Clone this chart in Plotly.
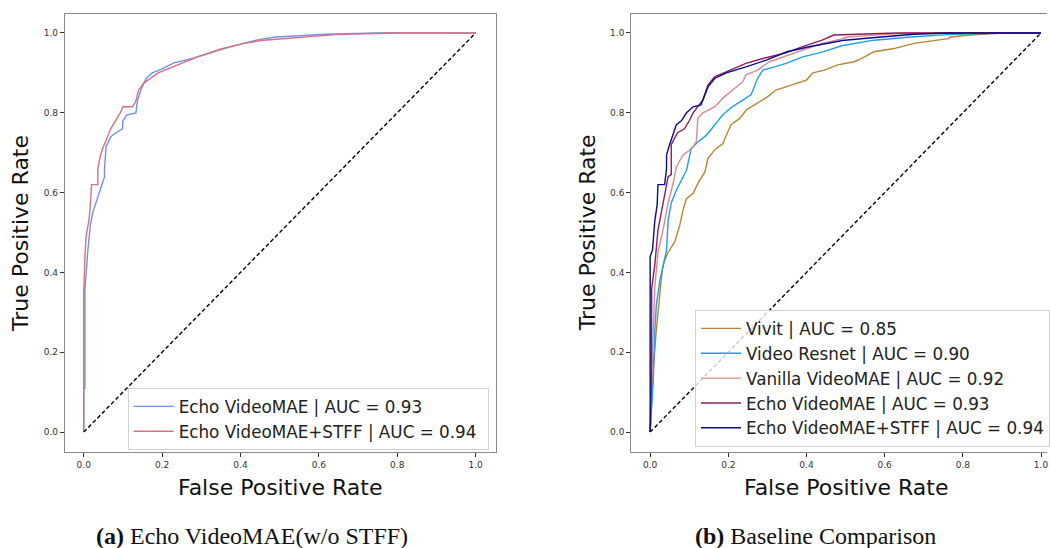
import plotly.graph_objects as go

# ---------------- data ----------------
# Panel (a): Echo VideoMAE (w/o STFF)
a_echo_fpr = [0, 0.0, 0.003, 0.003, 0.01, 0.017, 0.023, 0.036, 0.04, 0.053, 0.053, 0.057, 0.069, 0.082,
              0.099, 0.10, 0.11, 0.133, 0.137, 0.146, 0.159, 0.175, 0.20, 0.23, 0.277, 0.32, 0.375,
              0.44, 0.49, 0.62, 0.745, 1.0]
a_echo_tpr = [0, 0.11, 0.11, 0.355, 0.45, 0.52, 0.55, 0.59, 0.60, 0.64, 0.66, 0.715, 0.74, 0.75,
              0.76, 0.78, 0.795, 0.80, 0.83, 0.857, 0.886, 0.90, 0.91, 0.925, 0.936, 0.95, 0.966,
              0.982, 0.99, 0.997, 1.0, 1.0]
a_stff_fpr = [0, 0, 0.003, 0.006, 0.013, 0.016, 0.020, 0.036, 0.036, 0.042, 0.048, 0.069, 0.093,
              0.10, 0.125, 0.133, 0.14, 0.154, 0.19, 0.24, 0.29, 0.35, 0.41, 0.46, 0.53, 0.643, 0.79, 1.0]
a_stff_tpr = [0, 0.35, 0.44, 0.49, 0.53, 0.556, 0.62, 0.62, 0.66, 0.69, 0.71, 0.76, 0.80,
              0.815, 0.815, 0.83, 0.857, 0.875, 0.90, 0.92, 0.94, 0.96, 0.974, 0.982, 0.987, 0.996, 1.0, 1.0]

a_names = ["Echo VideoMAE | AUC = 0.93", "Echo VideoMAE+STFF | AUC = 0.94"]
a_colors = ["#6f8ff2", "#d8707e"]

# Panel (b): baseline comparison
b_vivit_fpr = [0, 0.005, 0.008, 0.015, 0.02, 0.025, 0.031, 0.037, 0.046, 0.063, 0.067, 0.075, 0.084,
               0.093, 0.11, 0.122, 0.14, 0.148, 0.165, 0.186, 0.199, 0.207, 0.229, 0.246, 0.267, 0.30,
               0.322, 0.365, 0.40, 0.416, 0.446, 0.48, 0.522, 0.54, 0.573, 0.624, 0.675, 0.735, 0.764,
               0.768, 0.82, 0.905, 1.0]
b_vivit_tpr = [0, 0.10, 0.155, 0.247, 0.306, 0.348, 0.406, 0.43, 0.45, 0.477, 0.49, 0.515, 0.556,
               0.585, 0.598, 0.623, 0.652, 0.686, 0.707, 0.723, 0.753, 0.77, 0.786, 0.807, 0.82, 0.84,
               0.857, 0.87, 0.882, 0.90, 0.907, 0.92, 0.928, 0.936, 0.953, 0.961, 0.974, 0.982, 0.986,
               0.99, 0.995, 1.0, 1.0]
b_resnet_fpr = [0, 0.005, 0.008, 0.012, 0.016, 0.025, 0.033, 0.042, 0.046, 0.054, 0.067, 0.084, 0.093,
                0.105, 0.122, 0.144, 0.165, 0.186, 0.21, 0.237, 0.258, 0.275, 0.288, 0.318, 0.348, 0.39,
                0.44, 0.49, 0.573, 0.667, 0.76, 0.89, 1.0]
b_resnet_tpr = [0, 0.10, 0.13, 0.256, 0.32, 0.38, 0.42, 0.456, 0.53, 0.574, 0.606, 0.64, 0.656,
                0.71, 0.727, 0.744, 0.77, 0.795, 0.815, 0.832, 0.845, 0.886, 0.907, 0.915, 0.924, 0.94,
                0.952, 0.968, 0.982, 0.99, 0.996, 1.0, 1.0]
b_vanilla_fpr = [0, 0.003, 0.006, 0.012, 0.02, 0.033, 0.046, 0.059, 0.067, 0.084, 0.105, 0.118, 0.122,
                 0.135, 0.165, 0.19, 0.216, 0.237, 0.245, 0.275, 0.305, 0.34, 0.39, 0.44, 0.49, 0.505,
                 0.59, 0.675, 1.0]
b_vanilla_tpr = [0, 0.11, 0.20, 0.364, 0.45, 0.506, 0.574, 0.624, 0.665, 0.694, 0.71, 0.727, 0.786,
                 0.80, 0.815, 0.84, 0.861, 0.878, 0.895, 0.907, 0.928, 0.94, 0.957, 0.974, 0.985, 0.99,
                 0.996, 1.0, 1.0]
b_echo_fpr = [0, 0.003, 0.004, 0.012, 0.02, 0.033, 0.042, 0.046, 0.054, 0.054, 0.07, 0.088, 0.10, 0.11,
              0.135, 0.148, 0.165, 0.203, 0.245, 0.288, 0.347, 0.39, 0.44, 0.47, 0.55, 0.63, 1.0]
b_echo_tpr = [0, 0.10, 0.36, 0.42, 0.506, 0.574, 0.615, 0.64, 0.645, 0.72, 0.75, 0.76, 0.78, 0.80,
              0.832, 0.87, 0.89, 0.907, 0.924, 0.936, 0.95, 0.966, 0.982, 0.995, 0.997, 1.0, 1.0]
b_stff_fpr = [0, 0, 0.006, 0.012, 0.018, 0.02, 0.037, 0.042, 0.042, 0.048, 0.067, 0.08, 0.093, 0.11,
              0.13, 0.14, 0.148, 0.165, 0.195, 0.245, 0.297, 0.35, 0.41, 0.475, 0.497, 0.59, 0.675, 0.76, 1.0]
b_stff_tpr = [0, 0.44, 0.456, 0.53, 0.57, 0.62, 0.62, 0.66, 0.694, 0.715, 0.77, 0.78, 0.80, 0.815,
              0.82, 0.845, 0.865, 0.886, 0.90, 0.915, 0.932, 0.953, 0.966, 0.978, 0.982, 0.99, 0.997, 1.0, 1.0]

b_names = ["Vivit | AUC = 0.85", "Video Resnet | AUC = 0.90", "Vanilla VideoMAE | AUC = 0.92",
           "Echo VideoMAE | AUC = 0.93", "Echo VideoMAE+STFF | AUC = 0.94"]
b_colors = ["#b8862e", "#1c9fe8", "#d98a90", "#8c1c5c", "#0a0a8a"]

chance = [0, 1]
tick_vals = [0.0, 0.2, 0.4, 0.6, 0.8, 1.0]
tick_text = ["0.0", "0.2", "0.4", "0.6", "0.8", "1.0"]
x_title = "False Positive Rate"
y_title = "True Positive Rate"
captions = ["<b>(a)</b> Echo VideoMAE(w/o STFF)", "<b>(b)</b> Baseline Comparison"]

# ---------------- figure ----------------
W, H = 1050, 548
ML, MR, MT, MB = 0, 0, 14, 96
FONT = "DejaVu Sans"

fig = go.Figure()

a_curves = [(a_echo_fpr, a_echo_tpr), (a_stff_fpr, a_stff_tpr)]
for (fx, ty), nm, col in zip(a_curves, a_names, a_colors):
    fig.add_trace(go.Scatter(x=fx, y=ty, mode="lines", name=nm + "\u00a0", legend="legend",
                             line=dict(color=col, width=1.4), xaxis="x", yaxis="y"))
fig.add_trace(go.Scatter(x=chance, y=chance, mode="lines", showlegend=False,
                         line=dict(color="black", width=1.4, dash="4px,2.5px"), xaxis="x", yaxis="y"))

b_curves = [(b_vivit_fpr, b_vivit_tpr), (b_resnet_fpr, b_resnet_tpr), (b_vanilla_fpr, b_vanilla_tpr),
            (b_echo_fpr, b_echo_tpr), (b_stff_fpr, b_stff_tpr)]
for (fx, ty), nm, col in zip(b_curves, b_names, b_colors):
    fig.add_trace(go.Scatter(x=fx, y=ty, mode="lines", name=nm, legend="legend2",
                             line=dict(color=col, width=1.4), xaxis="x2", yaxis="y2"))
fig.add_trace(go.Scatter(x=chance, y=chance, mode="lines", showlegend=False,
                         line=dict(color="black", width=1.4, dash="4px,2.5px"), xaxis="x2", yaxis="y2"))

def px_x(p):
    return (p - ML) / (W - ML - MR)

def px_y(p):
    return (H - MB - p) / (H - MT - MB)

axis_common = dict(showline=True, linecolor="#8a8a8a", linewidth=1, ticks="outside", ticklen=4,
                   tickcolor="#333333", tickwidth=1, tickvals=tick_vals, ticktext=tick_text,
                   tickfont=dict(family=FONT, size=9, color="#333333"), showgrid=False,
                   zeroline=False, automargin=False)

legend_common = dict(xanchor="left", yanchor="top", bgcolor="rgba(255,255,255,0.8)",
                     bordercolor="#d0d0d0", borderwidth=1, itemwidth=40,
                     font=dict(family=FONT, size=16.8, color="#222222"), tracegroupgap=0)

fig.update_layout(
    width=W, height=H, template="none",
    margin=dict(l=ML, r=MR, t=MT, b=MB),
    paper_bgcolor="white", plot_bgcolor="white",
    font=dict(family=FONT, color="#222222"),
    xaxis=dict(domain=[px_x(65), px_x(497)], range=[-0.0483, 1.0509], anchor="y", mirror=True,
               **axis_common),
    yaxis=dict(domain=[0, 1], range=[-0.050, 1.0476], anchor="x", mirror=True, **axis_common),
    xaxis2=dict(domain=[px_x(633), 1.0], range=[-0.0485, 1.0153], anchor="y2", mirror=True,
                **axis_common),
    yaxis2=dict(domain=[0, 1], range=[-0.050, 1.0476], anchor="x2", mirror=False, **axis_common),
    legend=dict(x=px_x(128), y=px_y(388), **legend_common),
    legend2=dict(x=px_x(697), y=px_y(310), **legend_common),
)

ann = []
for cx in (281, 848):
    ann.append(dict(text=x_title, x=px_x(cx), y=px_y(487), xref="paper", yref="paper",
                    xanchor="center", yanchor="middle", showarrow=False,
                    font=dict(family=FONT, size=22, color="#111111")))
for cx in (20, 589):
    ann.append(dict(text=y_title, x=px_x(cx), y=px_y(233), xref="paper", yref="paper",
                    xanchor="center", yanchor="middle", showarrow=False, textangle=-90,
                    font=dict(family=FONT, size=22, color="#111111")))
for cx, cap in zip((253, 818), captions):
    ann.append(dict(text=cap, x=px_x(cx), y=px_y(536), xref="paper", yref="paper",
                    xanchor="center", yanchor="middle", showarrow=False,
                    font=dict(family="Liberation Serif", size=24, color="#111111")))
fig.update_layout(annotations=ann)

fig.write_html("out.html", config={"displayModeBar": False})

# remove the browser's default page margin so the figure sits at the window's top-left corner
with open("out.html", "r", encoding="utf-8") as fh:
    page = fh.read()
page = page.replace("<head>", "<head><style>html,body{margin:0;padding:0;overflow:hidden;}</style>", 1)
with open("out.html", "w", encoding="utf-8") as fh:
    fh.write(page)
